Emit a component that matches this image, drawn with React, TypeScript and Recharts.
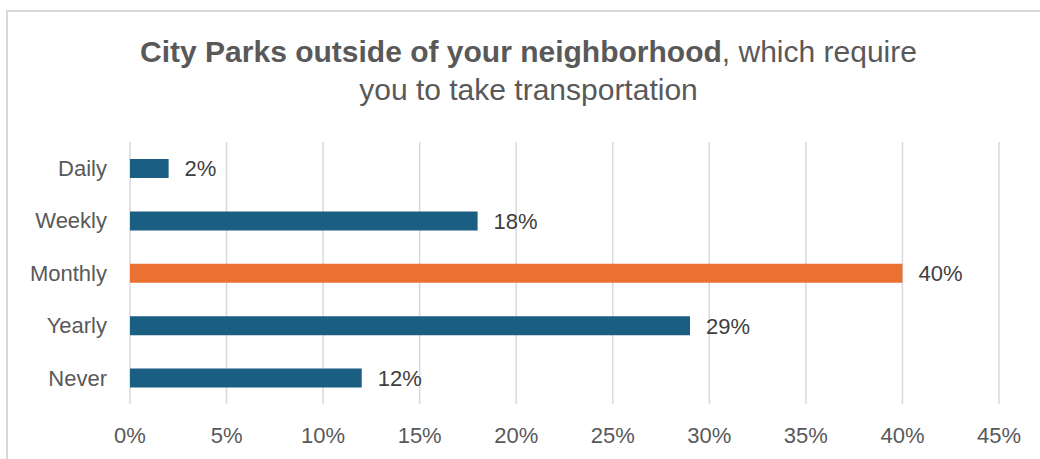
import { BarChart, Bar, XAxis, YAxis, CartesianGrid, LabelList, Cell } from 'recharts'

const categories = ['Daily', 'Weekly', 'Monthly', 'Yearly', 'Never']
const shares = [0.02, 0.18, 0.40, 0.29, 0.12]
const highlight = ['Monthly']
const xTicks = [0, 0.05, 0.1, 0.15, 0.2, 0.25, 0.3, 0.35, 0.4, 0.45]

const BLUE = '#1a5e82'
const ORANGE = '#eb7133'
const FONT = '"Liberation Sans", Arial, sans-serif'

const pct = (v: number) => `${Math.round(v * 100)}%`

export default function App() {
  const data = categories.map((c, i) => ({ name: c, value: shares[i] }))

  return (
    <div style={{ position: 'fixed', left: 0, top: 0, width: 1040, height: 459, overflow: 'hidden', background: '#fff', fontFamily: FONT }}>
      <div style={{ position: 'absolute', left: 6, top: 10, width: 1100, height: 520, border: '2px solid #d9d9d9', boxSizing: 'border-box' }} />
      <div style={{ position: 'absolute', left: 0, top: 33, width: 1057, textAlign: 'center', fontSize: 30, lineHeight: '38px', color: '#595959' }}>
        <span style={{ fontWeight: 700 }}>City Parks outside of your neighborhood</span>, which require
        <br />
        you to take transportation
      </div>
      <div style={{ position: 'absolute', left: 0, top: 0 }}>
        <BarChart
          width={1040} height={459} data={data} layout="vertical"
          margin={{ top: 142, right: 41, left: 0, bottom: 0 }}
          barCategoryGap={0}
        >
          <CartesianGrid horizontal={false} stroke="#d9d9d9" strokeWidth={1.5} />
          <XAxis
            type="number" domain={[0, 0.45]} ticks={xTicks}
            tickFormatter={pct} height={55}
            axisLine={false} tickLine={false} tickMargin={17}
            tick={{ fontSize: 22, fill: '#595959', fontFamily: FONT }}
          />
          <YAxis
            type="category" dataKey="name" width={130}
            axisLine={false} tickLine={false} tickMargin={17}
            tick={{ fontSize: 22, fill: '#595959', fontFamily: FONT }}
          />
          <Bar dataKey="value" barSize={19} isAnimationActive={false}>
            {data.map(d => (
              <Cell key={d.name} fill={highlight.includes(d.name) ? ORANGE : BLUE} />
            ))}
            <LabelList dataKey="value" position="right" offset={16} formatter={(v: any) => pct(Number(v))}
              style={{ fontSize: 22, fill: '#404040', fontFamily: FONT }} />
          </Bar>
        </BarChart>
      </div>
    </div>
  )
}
